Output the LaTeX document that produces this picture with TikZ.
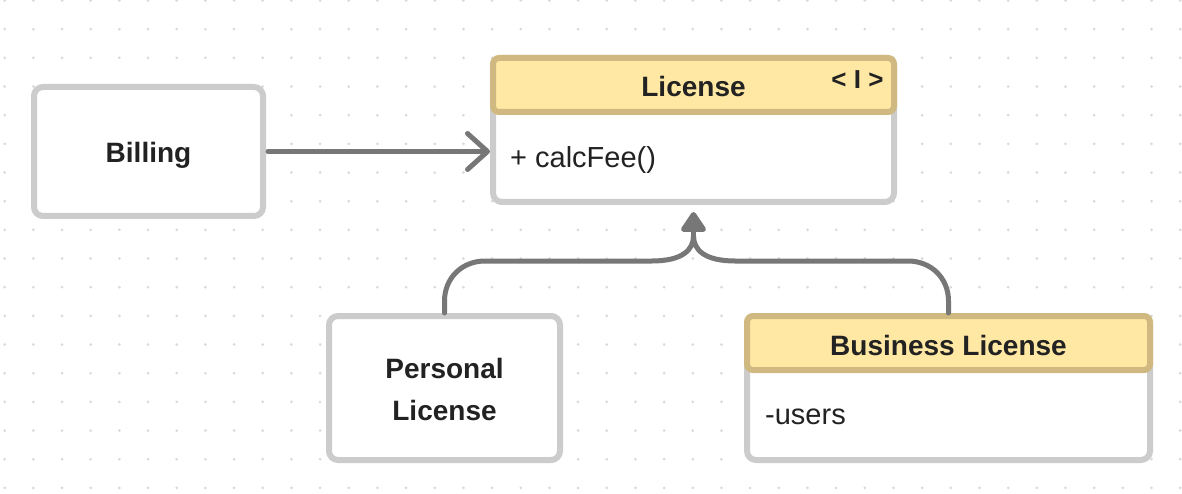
\documentclass[tikz,border=0pt]{standalone}
\usepackage{fontspec}
\setmainfont{Liberation Sans}
\usetikzlibrary{arrows.meta}
\definecolor{gridc}{HTML}{DADADA}
\definecolor{boxc}{HTML}{CCCCCC}
\definecolor{headfill}{HTML}{FFE8A3}
\definecolor{headline}{HTML}{CFB980}
\definecolor{connc}{HTML}{777777}
\definecolor{txt}{HTML}{222222}
\begin{document}
\begin{tikzpicture}[x=1pt,y=-1pt,
  box/.style={draw=boxc, line width=6pt, fill=white, rounded corners=9pt, inner sep=0pt},
  head/.style={draw=headline, fill=headfill, line width=6pt, rounded corners=6pt, inner sep=0pt},
  title/.style={font=\fontsize{28}{42}\selectfont\bfseries, text=txt, inner sep=0pt},
  body/.style={font=\fontsize{29}{34}\selectfont, text=txt, inner sep=0pt},
  conn/.style={draw=connc, line width=5pt, line cap=round, line join=round},
  inh/.style={-{Triangle[length=22pt,width=28pt,line join=round]}}
]
\useasboundingbox (0,0) rectangle (1182,494);
\fill[white] (0,0) rectangle (1182,494);
\foreach \i in {0,...,41} \foreach \j in {0,...,17} \fill[gridc] (4.7+28.67*\i, 0.5+28.67*\j) circle (1.5pt);

% Billing
\node[box, minimum width=229pt, minimum height=129pt] (billing) at (148.5,151.5) {};
\node[title] (billingT) at (148.5,155) {Billing};

% License
\node[box, minimum width=401pt, minimum height=144pt] (lic) at (693.5,130) {};
\node[head, minimum width=401pt, minimum height=54pt] (lichead) at (693.5,85) {};
\node[title] (licT) at (693.5,86) {License};
\node[font=\fontsize{26}{30}\selectfont\bfseries, text=txt, inner sep=0pt] (licI) at (857.5,80) {< I >};
\node[body, anchor=west] (licM) at (510,160) {+ calcFee()};

% Personal License
\node[box, minimum width=231pt, minimum height=144pt] (pers) at (444.5,388) {};
\node[title, align=center] (persT) at (444.5,389) {Personal\\License};

% Business License
\node[box, minimum width=403pt, minimum height=144pt] (bus) at (948.5,388) {};
\node[head, minimum width=403pt, minimum height=54pt] (bushead) at (948.5,343) {};
\node[title] (busT) at (948.5,345) {Business License};
\node[body, anchor=west] (busA) at (765,417) {-users};

% connectors
\draw[conn, -{Straight Barb[length=20pt,width=36pt,round]}] ([xshift=2pt]billing.east) -- (billing.east -| lic.west);
\coordinate (tip) at (693.5,212);
\draw[conn] (pers.north) -- (444.5,301) .. controls (444.5,278) and (462,261) .. (485,261) -- (652,261) .. controls (682,261) and (693.5,250) .. (693.5,236);
\draw[conn] (bus.north) -- (948.5,301) .. controls (948.5,278) and (931,261) .. (908,261) -- (735,261) .. controls (705,261) and (693.5,250) .. (693.5,236);
\draw[conn, inh] (693.5,238) -- (tip);
\end{tikzpicture}
\end{document}
